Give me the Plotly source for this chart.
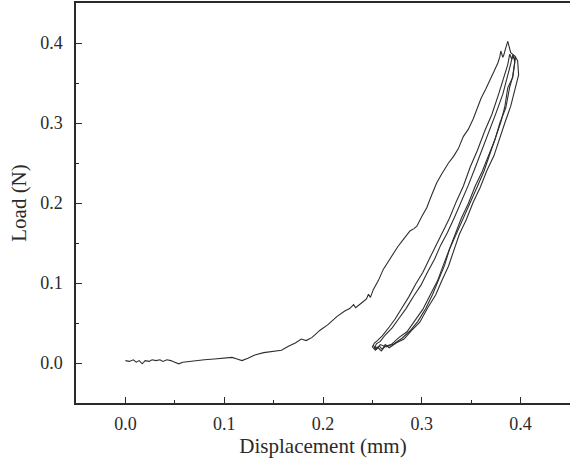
import plotly.graph_objects as go

# Initial loading curve (displacement mm, load N)
load_x = [0.000, 0.004, 0.008, 0.011, 0.014, 0.017, 0.020, 0.024, 0.027, 0.031, 0.035, 0.038,
          0.042, 0.046, 0.050, 0.054, 0.058, 0.064, 0.072, 0.080, 0.090, 0.100, 0.108, 0.113,
          0.118, 0.124, 0.131, 0.140, 0.150, 0.158, 0.165, 0.172, 0.178, 0.183, 0.189, 0.197,
          0.205, 0.214, 0.222, 0.227, 0.231, 0.233, 0.239, 0.244, 0.246, 0.248, 0.251, 0.256,
          0.261, 0.266, 0.271, 0.276, 0.281, 0.285, 0.288, 0.292, 0.295, 0.300, 0.305, 0.310,
          0.315, 0.320, 0.327, 0.332, 0.337, 0.342, 0.347, 0.352, 0.356, 0.360, 0.365, 0.370,
          0.374, 0.377, 0.379, 0.380, 0.382, 0.383, 0.385, 0.387]
load_y = [0.003, 0.002, 0.004, 0.001, 0.003, -0.001, 0.003, 0.002, 0.004, 0.003, 0.004, 0.002,
          0.004, 0.003, 0.001, -0.001, 0.001, 0.002, 0.003, 0.004, 0.005, 0.006, 0.007, 0.005,
          0.003, 0.006, 0.010, 0.013, 0.015, 0.016, 0.021, 0.025, 0.030, 0.028, 0.032, 0.041,
          0.048, 0.058, 0.065, 0.068, 0.073, 0.069, 0.075, 0.080, 0.086, 0.082, 0.092, 0.103,
          0.117, 0.127, 0.136, 0.146, 0.154, 0.160, 0.165, 0.168, 0.171, 0.183, 0.194, 0.210,
          0.225, 0.236, 0.250, 0.258, 0.268, 0.283, 0.292, 0.305, 0.318, 0.331, 0.343, 0.356,
          0.366, 0.375, 0.383, 0.390, 0.382, 0.385, 0.394, 0.402]

# First unloading
unload1_x = [0.387, 0.390, 0.394, 0.397, 0.398, 0.395, 0.390, 0.384, 0.379, 0.373, 0.366, 0.359,
             0.352, 0.345, 0.338, 0.333, 0.327, 0.321, 0.314, 0.306, 0.298, 0.290, 0.282, 0.274,
             0.267, 0.263, 0.260, 0.257]
unload1_y = [0.402, 0.388, 0.384, 0.378, 0.360, 0.345, 0.321, 0.300, 0.281, 0.259, 0.241, 0.219,
             0.201, 0.179, 0.161, 0.143, 0.121, 0.105, 0.085, 0.069, 0.051, 0.041, 0.030, 0.025,
             0.019, 0.023, 0.017, 0.021]

# Second loading
reload2_x = [0.257, 0.253, 0.250, 0.252, 0.255, 0.260, 0.267, 0.273, 0.280, 0.287, 0.294, 0.301,
             0.308, 0.314, 0.321, 0.328, 0.335, 0.342, 0.349, 0.356, 0.364, 0.371, 0.378, 0.383,
             0.387, 0.389]
reload2_y = [0.021, 0.016, 0.020, 0.025, 0.028, 0.034, 0.045, 0.055, 0.069, 0.083, 0.099, 0.113,
             0.131, 0.146, 0.164, 0.181, 0.202, 0.221, 0.245, 0.265, 0.291, 0.311, 0.337, 0.357,
             0.373, 0.386]

# Second unloading
unload2_x = [0.389, 0.391, 0.393, 0.394, 0.392, 0.389, 0.385, 0.379, 0.374, 0.368, 0.361, 0.354,
             0.347, 0.340, 0.333, 0.328, 0.322, 0.316, 0.309, 0.301, 0.293, 0.285, 0.277, 0.269,
             0.263, 0.259, 0.255]
unload2_y = [0.386, 0.380, 0.384, 0.376, 0.358, 0.345, 0.319, 0.300, 0.279, 0.261, 0.239, 0.221,
             0.199, 0.181, 0.159, 0.142, 0.123, 0.103, 0.087, 0.067, 0.053, 0.039, 0.032, 0.023,
             0.021, 0.015, 0.020]

# Third loading
reload3_x = [0.255, 0.252, 0.254, 0.258, 0.263, 0.270, 0.277, 0.284, 0.292, 0.299, 0.306, 0.313,
             0.319, 0.326, 0.333, 0.340, 0.347, 0.354, 0.361, 0.368, 0.375, 0.382, 0.387, 0.390,
             0.392]
reload3_y = [0.020, 0.018, 0.024, 0.027, 0.035, 0.044, 0.056, 0.068, 0.084, 0.097, 0.114, 0.130,
             0.147, 0.163, 0.182, 0.201, 0.222, 0.244, 0.266, 0.289, 0.312, 0.336, 0.358, 0.374,
             0.385]

# Third unloading
unload3_x = [0.392, 0.394, 0.395, 0.394, 0.392, 0.387, 0.384, 0.380, 0.374, 0.369, 0.363, 0.356,
             0.349, 0.342, 0.335, 0.328, 0.323, 0.317, 0.311, 0.304, 0.296, 0.288, 0.280, 0.272,
             0.264, 0.258, 0.254, 0.251]
unload3_y = [0.385, 0.379, 0.383, 0.372, 0.357, 0.344, 0.320, 0.301, 0.280, 0.260, 0.240, 0.220,
             0.200, 0.180, 0.160, 0.142, 0.122, 0.104, 0.086, 0.068, 0.052, 0.040, 0.031, 0.024,
             0.020, 0.023, 0.017, 0.022]

x_ticks = [0.0, 0.1, 0.2, 0.3, 0.4]
y_ticks = [0.0, 0.1, 0.2, 0.3, 0.4]

segments = [(load_x, load_y), (unload1_x, unload1_y), (reload2_x, reload2_y),
            (unload2_x, unload2_y), (reload3_x, reload3_y), (unload3_x, unload3_y)]

fig = go.Figure()
for sx, sy in segments:
    fig.add_trace(go.Scatter(x=sx, y=sy, mode="lines",
                             line=dict(color="#2e2e2e", width=1.1),
                             showlegend=False, hoverinfo="skip"))

font = dict(family="Liberation Serif, Times New Roman, serif", size=18, color="#2a2a2a")
axis_common = dict(showline=True, linecolor="#2a2a2a", linewidth=1.5,
                   ticks="inside", ticklen=6, tickwidth=1.2, tickcolor="#2a2a2a",
                   showgrid=False, zeroline=False, tickfont=font,
                   minor=dict(ticks="inside", ticklen=3, tickwidth=1.1,
                              tickcolor="#2a2a2a", dtick=0.05, showgrid=False))

fig.update_layout(
    width=570, height=464,
    margin=dict(l=75.5, r=0, t=3.3, b=60.7),
    paper_bgcolor="white", plot_bgcolor="white",
    font=font,
    xaxis=dict(range=[-0.05, 0.45], tickvals=x_ticks, tickformat=".1f",
               mirror=True, ticklabelstandoff=4, automargin=False,
               title=dict(text="Displacement (mm)", font=dict(size=21), standoff=2),
               **axis_common),
    yaxis=dict(range=[-0.05, 0.45], tickvals=y_ticks, tickformat=".1f",
               mirror=False, ticklabelstandoff=8, automargin=False,
               title=dict(text="Load (N)", font=dict(size=21), standoff=8),
               **axis_common),
)

fig.write_html("out.html", config={"displayModeBar": False},
               post_script="document.body.style.margin='0px';")
